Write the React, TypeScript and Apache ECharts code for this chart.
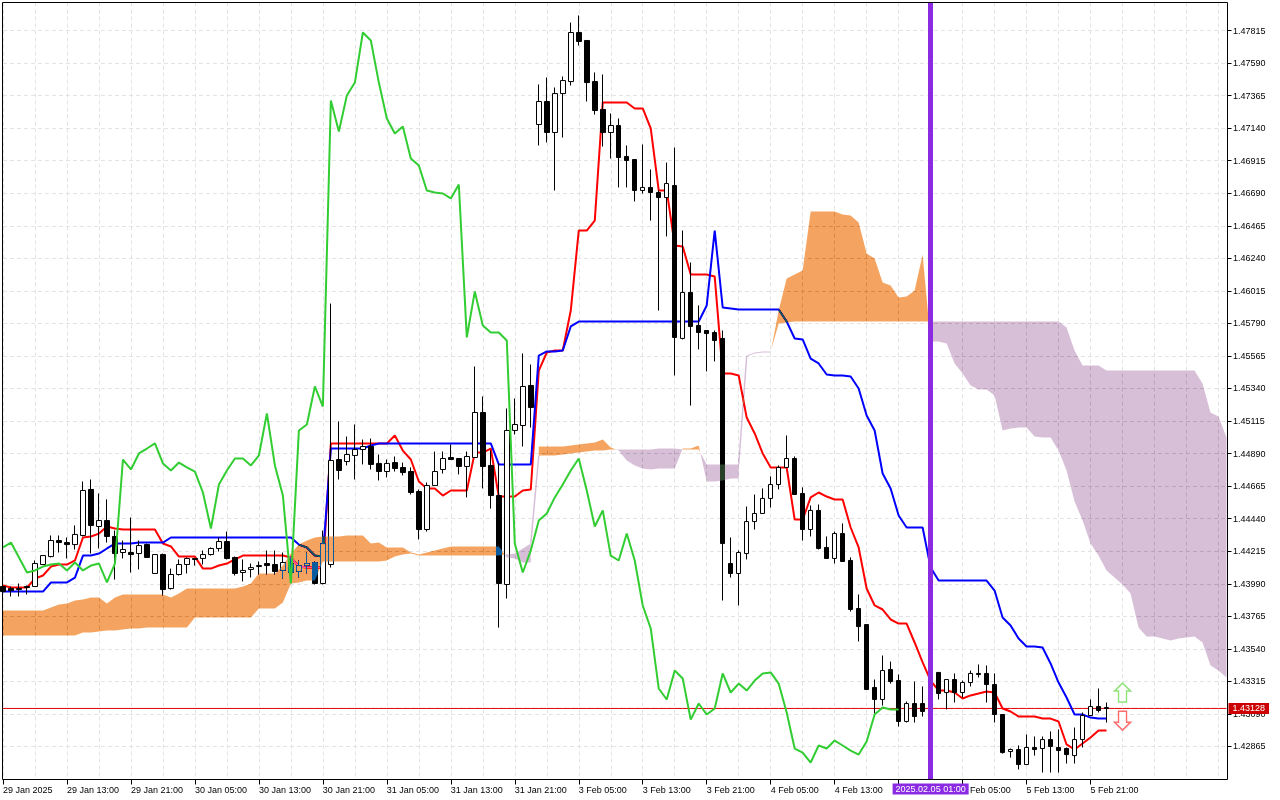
import React, { useEffect, useRef } from "react";
import * as echarts from "echarts";

const tickLabels = ["29 Jan 2025","29 Jan 13:00","29 Jan 21:00","30 Jan 05:00","30 Jan 13:00","30 Jan 21:00","31 Jan 05:00","31 Jan 13:00","31 Jan 21:00","3 Feb 05:00","3 Feb 13:00","3 Feb 21:00","4 Feb 05:00","4 Feb 13:00","","5 Feb 05:00","5 Feb 13:00","5 Feb 21:00"];
const priceTicks = [1.47815,1.4759,1.47365,1.4714,1.46915,1.4669,1.46465,1.4624,1.46015,1.4579,1.45565,1.4534,1.45115,1.4489,1.44665,1.4444,1.44215,1.4399,1.43765,1.4354,1.43315,1.4309,1.42865];
const bidPrice = 1.43128;
const markerIndex = 116;
const markerLabel = "2025.02.05 01:00";
const signalUp = [[140, 1.43238]];
const signalDown = [[140, 1.43043]];

// open, close, low, high
const ohlc = [
[1.43971,1.43936,1.4393,1.43978],[1.43957,1.43943,1.43902,1.43971],[1.43957,1.4395,1.43902,1.43992],[1.43971,1.43964,1.43916,1.43978],
[1.43971,1.4413,1.43971,1.44151],[1.44123,1.44185,1.44123,1.44185],[1.44178,1.44289,1.44172,1.44324],[1.44289,1.44275,1.44206,1.44324],
[1.44275,1.44261,1.44165,1.4431],[1.44261,1.44331,1.44227,1.44393],[1.44324,1.44635,1.44317,1.44697],[1.44642,1.44393,1.44199,1.44711],
[1.44386,1.44427,1.44234,1.44614],[1.44427,1.44317,1.44275,1.44573],[1.44317,1.44199,1.44019,1.44358],[1.44206,1.44227,1.44165,1.44289],
[1.44206,1.44192,1.44068,1.44448],[1.44199,1.44254,1.44089,1.44289],[1.44261,1.44172,1.44172,1.44268],[1.44061,1.44192,1.44061,1.44192],
[1.44192,1.4395,1.43909,1.44199],[1.43957,1.44054,1.4395,1.44095],[1.44054,1.44123,1.44047,1.44158],[1.44123,1.44165,1.44061,1.44172],
[1.44165,1.44158,1.44116,1.44165],[1.44165,1.44192,1.44123,1.4422],[1.44192,1.44234,1.44185,1.44241],[1.44234,1.44282,1.44213,1.4431],
[1.44282,1.44165,1.44158,1.44351],[1.44172,1.44061,1.44047,1.44178],[1.44068,1.44082,1.44006,1.44158],[1.44089,1.44102,1.44033,1.4413],
[1.44109,1.44116,1.44054,1.44144],[1.4413,1.44116,1.44054,1.4422],[1.44123,1.44075,1.44054,1.4422],[1.44082,1.44137,1.44026,1.44206],
[1.4413,1.44068,1.43999,1.44172],[1.44075,1.44116,1.44033,1.44151],[1.44116,1.4413,1.44061,1.44206],[1.44137,1.43992,1.43985,1.44144],
[1.43992,1.44268,1.43985,1.44358],[1.44123,1.44842,1.44102,1.45927],[1.44849,1.44773,1.44711,1.45112],[1.44835,1.44884,1.44808,1.45008],
[1.44877,1.44918,1.44711,1.45091],[1.44918,1.44939,1.44815,1.44987],[1.44939,1.44815,1.4478,1.44994],[1.44822,1.44766,1.44704,1.44884],
[1.44766,1.44822,1.44725,1.44849],[1.44828,1.44787,1.44766,1.4487],[1.44794,1.44759,1.44739,1.44828],[1.44766,1.44621,1.44607,1.44794],
[1.44628,1.44365,1.44296,1.44642],[1.44365,1.44669,1.44351,1.4469],[1.44669,1.44766,1.44669,1.44904],[1.4478,1.44856,1.44752,1.44904],
[1.44863,1.44849,1.44849,1.44953],[1.44856,1.44801,1.44746,1.44856],[1.44801,1.4487,1.44587,1.44904],[1.44863,1.45174,1.44863,1.45492],
[1.45174,1.44801,1.44649,1.45285],[1.44808,1.446,1.4451,1.44911],[1.446,1.43992,1.43687,1.44822],[1.43985,1.4505,1.43888,1.45202],
[1.4505,1.45091,1.45022,1.45271],[1.45084,1.45354,1.44939,1.45582],[1.45361,1.45209,1.4507,1.45506],[1.47165,1.47324,1.4702,1.47442],
[1.47324,1.4711,1.47041,1.4749],[1.4711,1.47379,1.46709,1.47421],[1.47379,1.47469,1.47075,1.47497],[1.47462,1.47801,1.47435,1.4787],
[1.47801,1.47739,1.47711,1.47919],[1.47746,1.47455,1.47324,1.47746],[1.47462,1.47262,1.47234,1.47525],[1.47269,1.4711,1.47013,1.47511],
[1.4711,1.47158,1.4693,1.47241],[1.47158,1.46937,1.4673,1.47207],[1.46944,1.46916,1.4673,1.4702],[1.46923,1.46709,1.46633,1.46923],
[1.46709,1.4673,1.46688,1.47027],[1.4673,1.46695,1.46501,1.46854],[1.46695,1.4666,1.45879,1.46709],[1.4666,1.46757,1.46391,1.46902],
[1.46743,1.45693,1.4543,1.47006],[1.45686,1.46004,1.45679,1.46432],[1.46004,1.45769,1.45222,1.46211],[1.45776,1.45727,1.4561,1.45914],
[1.45741,1.4572,1.45458,1.45741],[1.45727,1.45672,1.45527,1.45741],[1.45686,1.44268,1.43874,1.45741],[1.4413,1.44061,1.44033,1.4431],
[1.44061,1.44206,1.4384,1.4422],[1.44199,1.4442,1.44158,1.44524],[1.4442,1.44476,1.44365,1.44607],[1.44476,1.4458,1.44476,1.44649],
[1.4458,1.44676,1.44517,1.44732],[1.44676,1.44794,1.44642,1.44808],[1.44794,1.44856,1.44794,1.45015],[1.44856,1.44607,1.44607,1.4487],
[1.44614,1.44365,1.44289,1.44656],[1.44365,1.44497,1.44317,1.44531],[1.44497,1.44234,1.44227,1.44538],[1.44241,1.44165,1.44165,1.44317],
[1.44165,1.44337,1.4413,1.44351],[1.44337,1.44144,1.44144,1.44407],[1.44151,1.43812,1.43798,1.44172],[1.43819,1.43694,1.43591,1.43916],
[1.43708,1.43259,1.43259,1.43708],[1.43273,1.4319,1.43093,1.43328],[1.4319,1.4339,1.43148,1.43494],[1.43397,1.43314,1.433,1.43452],
[1.43321,1.43038,1.43003,1.43363],[1.43038,1.43162,1.43031,1.43176],[1.43162,1.43072,1.43031,1.43314],[1.43162,1.43107,1.43072,1.4328],
[1.43107,1.43252,1.43107,1.4328],[1.43377,1.43231,1.4319,1.43377],[1.43238,1.43328,1.43121,1.43328],[1.43328,1.43238,1.43169,1.4337],
[1.43238,1.43307,1.43204,1.43321],[1.43307,1.4337,1.4328,1.4339],[1.4337,1.43363,1.43342,1.43432],[1.4337,1.43293,1.43169,1.43425],
[1.43293,1.43086,1.43031,1.4337],[1.43086,1.42823,1.42816,1.43086],[1.4283,1.42844,1.42788,1.42851],[1.42844,1.4274,1.42706,1.42872],
[1.4274,1.42858,1.4274,1.42948],[1.42858,1.42844,1.42802,1.42934],[1.42851,1.42913,1.42685,1.42934],[1.42913,1.42865,1.42685,1.42969],
[1.42858,1.42837,1.42685,1.42983],[1.42851,1.42809,1.42747,1.42858],[1.42802,1.42913,1.42747,1.42996],[1.42913,1.43079,1.42858,1.431],
[1.43079,1.43141,1.43079,1.4319],[1.43141,1.43114,1.431,1.43266],[1.43134,1.43128,1.43031,1.43169],
];

const tenkan = [
1.43978,1.43964,1.43964,1.43964,1.44026,1.44047,1.44109,1.44123,1.44123,1.44151,1.4431,1.44317,1.44337,1.44386,1.44372,1.44365,1.44365,1.44365,1.44365,1.44365,
1.44268,1.44248,1.44178,1.44178,1.44178,1.44095,1.44095,1.44116,1.4413,1.44158,1.44185,1.44185,1.44185,1.44185,1.44185,1.44185,1.44172,1.44109,1.44102,1.44102,
1.44102,1.4496,1.4496,1.4496,1.4496,1.4496,1.4496,1.4496,1.4496,1.45015,1.44911,1.44849,1.44697,1.44649,1.44649,1.446,1.44635,1.44635,1.44635,1.44897,
1.44897,1.44925,1.44593,1.44593,1.44593,1.44635,1.44642,1.45464,1.45589,1.45603,1.45603,1.45879,1.46432,1.46432,1.46501,1.47317,1.47317,1.47317,1.47317,1.47276,
1.47276,1.47138,1.46709,1.46709,1.46329,1.46322,1.46128,1.46128,1.46128,1.46114,1.45444,1.45444,1.4543,1.45139,1.45029,1.44891,1.44794,1.44794,1.44794,1.44434,
1.44434,1.44587,1.44621,1.44593,1.44573,1.44573,1.44379,1.44241,1.43957,1.4384,1.43812,1.43743,1.43715,1.43715,1.43584,1.43446,1.43321,1.43252,1.43252,1.43238,
1.43197,1.43218,1.43231,1.43245,1.43238,1.43128,1.43107,1.43072,1.43072,1.43072,1.43058,1.43058,1.43038,1.42879,1.42844,1.42886,1.42927,1.42976,1.42976,
];

const kijun = [
1.43936,1.43936,1.43936,1.43936,1.43936,1.43936,1.43999,1.43999,1.43999,1.44033,1.44185,1.44185,1.44199,1.44234,1.44268,1.44268,1.44268,1.44275,1.44275,1.44275,
1.44275,1.4431,1.4431,1.4431,1.4431,1.4431,1.4431,1.4431,1.4431,1.4431,1.4431,1.4431,1.4431,1.4431,1.4431,1.4431,1.4431,1.44261,1.44241,1.44185,
1.44178,1.44925,1.44925,1.44925,1.44925,1.44925,1.44946,1.4496,1.4496,1.4496,1.4496,1.4496,1.4496,1.4496,1.4496,1.4496,1.4496,1.4496,1.4496,1.4496,
1.4496,1.4496,1.44815,1.44815,1.44815,1.44815,1.44815,1.45568,1.45596,1.45596,1.45603,1.45769,1.45803,1.45803,1.45803,1.45803,1.45803,1.45803,1.45803,1.45803,
1.45803,1.45803,1.45803,1.45803,1.45803,1.45803,1.45803,1.45803,1.45914,1.46432,1.459,1.45893,1.45886,1.45886,1.45886,1.45886,1.45886,1.45886,1.45803,1.45686,
1.45679,1.45547,1.45513,1.45437,1.4543,1.4543,1.45423,1.4534,1.45153,1.4505,1.44752,1.44649,1.44462,1.44379,1.44379,1.44379,1.44102,1.44012,1.44012,1.44012,
1.44012,1.44012,1.44012,1.44012,1.43943,1.43757,1.43701,1.43612,1.43556,1.43556,1.43549,1.43439,1.43307,1.43204,1.43086,1.43086,1.43065,1.43058,1.43058,
];

const chikou = [
1.44241,1.44275,1.44172,1.44068,1.44082,1.44109,1.44123,1.4413,1.44082,1.44137,1.44082,1.44116,1.4413,1.43999,1.4413,1.44849,1.4478,1.44891,1.44925,1.4496,
1.44822,1.44773,1.44828,1.44794,1.44766,1.44621,1.44372,1.44676,1.44773,1.44856,1.44856,1.44808,1.44877,1.45167,1.44808,1.446,1.43992,1.4505,1.45091,1.45354,
1.45215,1.47331,1.47117,1.47366,1.47455,1.47801,1.47746,1.47455,1.47207,1.47103,1.47151,1.4693,1.46882,1.46709,1.46695,1.46688,1.46654,1.4675,1.45693,1.46011,
1.45776,1.45727,1.45727,1.45672,1.44268,1.44068,1.4422,1.44427,1.44476,1.44587,1.44676,1.44773,1.44856,1.44635,1.44386,1.44497,1.44185,1.44151,1.44337,1.44151,
1.4384,1.43681,1.43266,1.4319,1.4339,1.43335,1.43051,1.43162,1.43086,1.43128,1.4337,1.43238,1.433,1.43252,1.43321,1.4337,1.43377,1.433,1.431,1.42851,
1.42823,1.42754,1.42872,1.42851,1.42906,1.42872,1.42837,1.42809,1.42899,1.43086,1.43134,1.43121,1.43121,
];

const spanA = [
1.43805,1.43805,1.43805,1.43805,1.43805,1.43805,1.43826,1.43847,1.43854,1.43874,1.43881,1.43895,1.43895,1.43854,1.43895,1.43916,1.43916,1.43916,1.43916,1.43916,
1.43916,1.43895,1.43923,1.43957,1.43957,1.43957,1.43957,1.43957,1.43957,1.43957,1.43971,1.43992,1.44061,1.44061,1.44061,1.44116,1.44199,1.44261,1.44289,1.4431,
1.44317,1.44317,1.44317,1.44324,1.44324,1.44324,1.44268,1.44275,1.44241,1.44241,1.44241,1.44206,1.44192,1.44206,1.4422,1.44234,1.44248,1.44248,1.44248,1.44248,
1.44248,1.44248,1.44248,1.44172,1.44165,1.44137,1.44137,1.44939,1.44939,1.44939,1.44939,1.44946,1.44953,1.4496,1.44967,1.44987,1.44932,1.44911,1.44842,1.44808,
1.44787,1.4478,1.44787,1.44787,1.44787,1.44925,1.44925,1.44946,1.44697,1.44697,1.44704,1.44718,1.44718,1.45561,1.45582,1.45589,1.45589,1.45879,1.461,1.46128,
1.46156,1.46564,1.46564,1.46564,1.46564,1.46543,1.46536,1.46488,1.46273,1.46239,1.46073,1.46052,1.45969,1.45976,1.46017,1.46266,1.45665,1.45665,1.45651,1.45513,
1.45444,1.45361,1.45333,1.45333,1.45292,1.4505,1.45063,1.4507,1.4507,1.45008,1.45001,1.45001,1.44911,1.44773,1.44559,1.44427,1.44268,1.44185,1.44082,1.44033,
1.43985,1.43923,1.43687,1.43625,1.43625,1.43611,1.43597,1.43611,1.43618,1.43625,1.43584,1.43425,1.4339,1.43342,
];

const spanB = [
1.43632,1.43632,1.43632,1.43632,1.43632,1.43632,1.43632,1.43632,1.43632,1.43632,1.43653,1.43653,1.4366,1.43667,1.43667,1.43674,1.43681,1.43681,1.43687,1.43687,
1.43687,1.43687,1.43687,1.43687,1.43757,1.43757,1.43757,1.43757,1.43757,1.43757,1.43757,1.43757,1.43819,1.43819,1.43819,1.43861,1.43992,1.43999,1.44012,1.44012,
1.44144,1.44144,1.44144,1.44144,1.44144,1.44144,1.44144,1.44144,1.44151,1.44178,1.44192,1.44199,1.44185,1.44185,1.44185,1.44185,1.44185,1.44185,1.44185,1.44185,
1.44185,1.44185,1.44185,1.44192,1.44199,1.44234,1.44268,1.44877,1.44877,1.44877,1.44884,1.44891,1.44897,1.44904,1.44911,1.44911,1.44918,1.44918,1.44918,1.44918,
1.44918,1.44918,1.44925,1.44925,1.44925,1.44918,1.44918,1.44918,1.44815,1.44815,1.44815,1.44815,1.44815,1.45568,1.45589,1.45596,1.45596,1.45789,1.45796,1.45803,
1.45803,1.45803,1.45803,1.45803,1.45803,1.45803,1.45803,1.45803,1.45803,1.45803,1.45803,1.45803,1.45803,1.45803,1.45803,1.45803,1.45803,1.45803,1.45803,1.45803,
1.45803,1.45803,1.45803,1.45803,1.45803,1.45803,1.45803,1.45803,1.45803,1.45803,1.45803,1.45803,1.45803,1.45762,1.45603,1.45499,1.45499,1.45499,1.45464,1.45464,
1.45464,1.45464,1.45464,1.45464,1.45464,1.45464,1.45464,1.45464,1.45464,1.45464,1.45374,1.45174,1.45146,1.45001,
];

// segments where the cloud jumps and MetaTrader draws a hair line instead of a ribbon
const cloudJumps = [66, 92];

// the terminal paints the cloud with XOR-like inversion: these two are the inverses of #F4A460 and #D8BFD8
const BULL_INV = "#0b5b9f";
const BEAR_INV = "#274027";

const categories = spanA.map((_, i) => String(i));
const bidLine = categories.map(() => bidPrice);
const font = "Liberation Sans";

type Run = { bull: boolean; a: number[][]; b: number[][]; line?: boolean };

function buildCloud(): Run[] {
  const runs: Run[] = [];
  let cur: Run = { bull: spanA[0] >= spanB[0], a: [[0, spanA[0]]], b: [[0, spanB[0]]] };
  for (let k = 1; k < spanA.length; k++) {
    if (cloudJumps.includes(k - 1)) {
      runs.push(cur);
      runs.push({
        bull: false,
        line: true,
        a: [[k - 1, Math.max(spanA[k - 1], spanB[k - 1])], [k, Math.min(spanA[k], spanB[k])]],
        b: [],
      });
      cur = { bull: spanA[k] >= spanB[k], a: [[k, spanA[k]]], b: [[k, spanB[k]]] };
      continue;
    }
    const bull = spanA[k] >= spanB[k];
    if (bull !== cur.bull) {
      const d0 = spanA[k - 1] - spanB[k - 1];
      const d1 = spanA[k] - spanB[k];
      const t = d0 / (d0 - d1);
      const xk = k - 1 + t;
      const v = spanA[k - 1] + t * (spanA[k] - spanA[k - 1]);
      cur.a.push([xk, v]);
      cur.b.push([xk, v]);
      runs.push(cur);
      cur = { bull, a: [[xk, v], [k, spanA[k]]], b: [[xk, v], [k, spanB[k]]] };
    } else {
      cur.a.push([k, spanA[k]]);
      cur.b.push([k, spanB[k]]);
    }
  }
  runs.push(cur);
  return runs;
}

const cloudRuns = buildCloud();

export default function App() {
  const ref = useRef<HTMLDivElement>(null);

  useEffect(() => {
    document.body.style.margin = "0";
    const chart = echarts.init(ref.current!, undefined, { renderer: "svg" });

    const renderCloud = (params: any, api: any) => {
      const run = cloudRuns[params.dataIndex];
      const x0 = api.coord([0, 1.44])[0];
      const x1 = api.coord([1, 1.44])[0];
      const toPx = (p: number[]) => [x0 + (x1 - x0) * p[0], api.coord([0, p[1]])[1]];
      if (run.line) {
        return {
          type: "polyline",
          shape: { points: run.a.map(toPx) },
          style: { stroke: BEAR_INV, fill: "none", lineWidth: 1.5 },
        };
      }
      const pts = run.a.concat(run.b.slice().reverse()).map(toPx);
      return {
        type: "polygon",
        shape: { points: pts },
        style: { fill: run.bull ? BULL_INV : BEAR_INV },
      };
    };

    const lineSeries = (name: string, data: number[], color: string, z: number) => ({
      name,
      type: "line",
      data,
      z,
      symbol: "none",
      lineStyle: { color, width: 2 },
      itemStyle: { color },
      silent: true,
    });

    chart.setOption({
      animation: false,
      backgroundColor: "#ffffff",
      grid: { left: 2.5, top: 2.5, width: 1224, height: 777, containLabel: false },
      xAxis: {
        type: "category",
        data: categories,
        boundaryGap: false,
        axisLine: { show: false },
        axisTick: {
          show: true,
          length: 5,
          interval: (i: number) => i % 8 === 0 && i / 8 < tickLabels.length,
          lineStyle: { color: "#000" },
        },
        axisLabel: {
          show: true,
          interval: 7,
          align: "left",
          margin: 5.5,
          hideOverlap: false,
          fontFamily: font,
          fontSize: 9,
          color: "#000",
          formatter: (_: string, i: number) => tickLabels[i / 8] ?? "",
        },
        splitLine: {
          show: true,
          interval: (i: number) => i % 4 === 0,
          lineStyle: { color: "#e3e3e3", type: [4, 3], width: 1 },
        },
      },
      yAxis: {
        type: "value",
        position: "right",
        offset: 1,
        min: 1.426368,
        max: 1.480086,
        axisLine: { show: false },
        axisTick: { show: true, length: 4, customValues: priceTicks, lineStyle: { color: "#000" } },
        axisLabel: {
          show: true,
          customValues: priceTicks,
          margin: 5.5,
          fontFamily: font,
          fontSize: 9,
          color: "#000",
          formatter: (v: number) => v.toFixed(5),
        },
        splitLine: { show: true, lineStyle: { color: "#e3e3e3", type: [4, 3], width: 1 } },
      },
      graphic: [
        {
          type: "rect",
          z: 20,
          silent: true,
          shape: { x: 2.5, y: 2.5, width: 1225, height: 777 },
          style: { fill: "transparent", stroke: "#000", lineWidth: 1 },
        },
      ],
      series: [
        {
          name: "Bid",
          type: "line",
          data: bidLine,
          z: 1,
          symbol: "none",
          silent: true,
          lineStyle: { color: "#e00000", width: 1 },
          itemStyle: { color: "#e00000" },
          endLabel: {
            show: true,
            distance: 2,
            formatter: () => bidPrice.toFixed(5),
            backgroundColor: "#cc0000",
            color: "#ffffff",
            padding: [1, 4],
            fontFamily: font,
            fontSize: 9,
          },
        },
        {
          name: "Price",
          type: "candlestick",
          data: ohlc,
          z: 2,
          barWidth: 5,
          silent: true,
          itemStyle: { color: "#ffffff", color0: "#000000", borderColor: "#000000", borderColor0: "#000000", borderWidth: 1 },
        },
        lineSeries("Tenkan-sen", tenkan, "#ff0000", 2),
        lineSeries("Kijun-sen", kijun, "#0000ff", 2),
        {
          name: "Kumo",
          type: "custom",
          z: 3,
          clip: false,
          silent: true,
          data: cloudRuns.map((_, i) => [i, spanA[0]]),
          encode: { x: 0, y: 1 },
          renderItem: renderCloud,
        },
        lineSeries("Chikou Span", chikou, "#32cd32", 4),
        {
          name: "Buy signal",
          type: "scatter",
          z: 5,
          silent: true,
          data: signalUp,
          symbol: "path://M8 0 L16 8 L12 8 L12 19 L4 19 L4 8 L0 8 Z",
          symbolSize: [16, 19],
          itemStyle: { color: "#ffffff", borderColor: "#72dc5a", borderWidth: 1.5 },
        },
        {
          name: "Sell signal",
          type: "scatter",
          z: 5,
          silent: true,
          data: signalDown,
          symbol: "path://M4 0 L12 0 L12 11 L16 11 L8 19 L0 11 L4 11 Z",
          symbolSize: [16, 19],
          itemStyle: { color: "#ffffff", borderColor: "#ff4a4a", borderWidth: 1.5 },
        },
        {
          name: "Marker",
          type: "line",
          z: 10,
          data: [],
          silent: true,
          markLine: {
            silent: true,
            symbol: "none",
            animation: false,
            data: [
              {
                xAxis: String(markerIndex),
                lineStyle: { color: "#8a2be2", width: 5, type: "solid" },
                label: {
                  show: true,
                  position: "start",
                  distance: 4,
                  formatter: () => markerLabel,
                  backgroundColor: "#8a2be2",
                  color: "#ffffff",
                  padding: [1, 3],
                  fontFamily: font,
                  fontSize: 9,
                },
              },
            ],
          },
        },
      ],
    });

    const blend = () => {
      ref.current?.querySelectorAll("svg *").forEach((el: any) => {
        const c = `${el.getAttribute("fill")} ${el.getAttribute("stroke")}`.toLowerCase();
        if (c.includes(BULL_INV) || c.includes(BEAR_INV) || c.includes("rgb(11,91,159)") || c.includes("rgb(39,64,39)")) {
          el.style.mixBlendMode = "difference";
        }
      });
    };
    blend();
    chart.on("finished", blend);

    return () => chart.dispose();
  }, []);

  return <div ref={ref} style={{ position: "fixed", left: 0, top: 0, width: 1280, height: 800 }} />;
}
